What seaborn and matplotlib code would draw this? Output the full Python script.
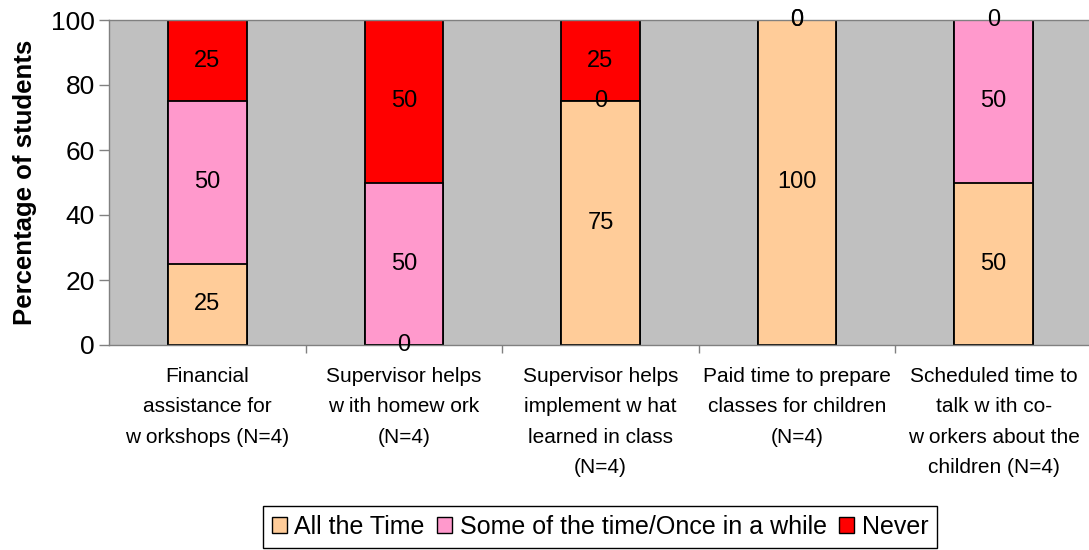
import numpy as np
import pandas as pd
import matplotlib
matplotlib.use("Agg")
import matplotlib.pyplot as plt
import seaborn as sns
from matplotlib.patches import Patch

categories = [
    "Financial\nassistance for\nw orkshops (N=4)",
    "Supervisor helps\nw ith homew ork\n(N=4)",
    "Supervisor helps\nimplement w hat\nlearned in class\n(N=4)",
    "Paid time to prepare\nclasses for children\n(N=4)",
    "Scheduled time to\ntalk w ith co-\nw orkers about the\nchildren (N=4)",
]
series_names = ["All the Time", "Some of the time/Once in a while", "Never"]
all_the_time = [25, 0, 75, 100, 50]
some_of_the_time = [50, 50, 0, 0, 50]
never = [25, 50, 25, 0, 0]
colors = ["#FFCC99", "#FF99CC", "#FF0000"]
yticks = [0, 20, 40, 60, 80, 100]

sns.set_theme(style="white")
plt.rcParams["font.family"] = ["Liberation Sans", "DejaVu Sans"]
plt.rcParams.update({
    "text.color": "black",
    "axes.labelcolor": "black",
    "xtick.labelcolor": "black",
    "ytick.labelcolor": "black",
})

values = np.array([all_the_time, some_of_the_time, never], dtype=float)
cum = np.cumsum(values, axis=0)
bottoms = cum - values

fig = plt.figure(figsize=(10.89, 5.5), dpi=100)
ax = fig.add_axes([109 / 1089, 205 / 550, 983 / 1089, 325 / 550])
ax.set_facecolor("#C0C0C0")

# stacked bars: draw cumulative totals from the top segment down
for i in range(len(series_names) - 1, -1, -1):
    df = pd.DataFrame({"cat": categories, "val": cum[i]})
    sns.barplot(data=df, x="cat", y="val", color=colors[i], width=0.4,
                edgecolor="black", linewidth=1.3, saturation=1, ax=ax)

# segment value labels
for i in range(len(series_names)):
    for j in range(len(categories)):
        ax.text(j, bottoms[i, j] + values[i, j] / 2, f"{values[i, j]:.0f}",
                ha="center", va="center", fontsize=17, color="black")

ax.set_xlim(-0.5, len(categories) - 0.5)
ax.set_ylim(0, 100)
ax.set_yticks(yticks)
ax.set_yticklabels([str(t) for t in yticks], fontsize=19, color="black")
ax.set_xticks(range(len(categories)))
ax.set_xticklabels(categories, fontsize=15, linespacing=1.75, va="top", color="black")
ax.set_xticks(np.arange(0.5, len(categories) - 0.5, 1), minor=True)
ax.tick_params(axis="x", which="major", length=0, pad=16)
ax.tick_params(axis="x", which="minor", length=6, width=1, color="#808080", direction="out", bottom=True)
ax.tick_params(axis="y", which="major", length=7, width=1, color="#808080", direction="out", left=True, pad=3)
ax.set_xlabel("")
ax.set_ylabel("Percentage of students", fontsize=18.5, fontweight="bold", labelpad=10, color="black")

for side in ["left", "bottom", "top", "right"]:
    ax.spines[side].set_visible(True)
    ax.spines[side].set_color("#808080")
    ax.spines[side].set_linewidth(1)

handles = [Patch(facecolor=c, edgecolor="black", linewidth=1) for c in colors]
leg = fig.legend(handles, series_names, loc="center", bbox_to_anchor=(600 / 1089, 1 - 527 / 550),
                 ncol=3, fontsize=18, frameon=True, fancybox=False, edgecolor="black",
                 handlelength=0.6, handleheight=0.6, handletextpad=0.3, columnspacing=0.5,
                 borderpad=0.35, framealpha=1)
for t in leg.get_texts():
    t.set_color("black")

fig.savefig("out.png", dpi=100)
